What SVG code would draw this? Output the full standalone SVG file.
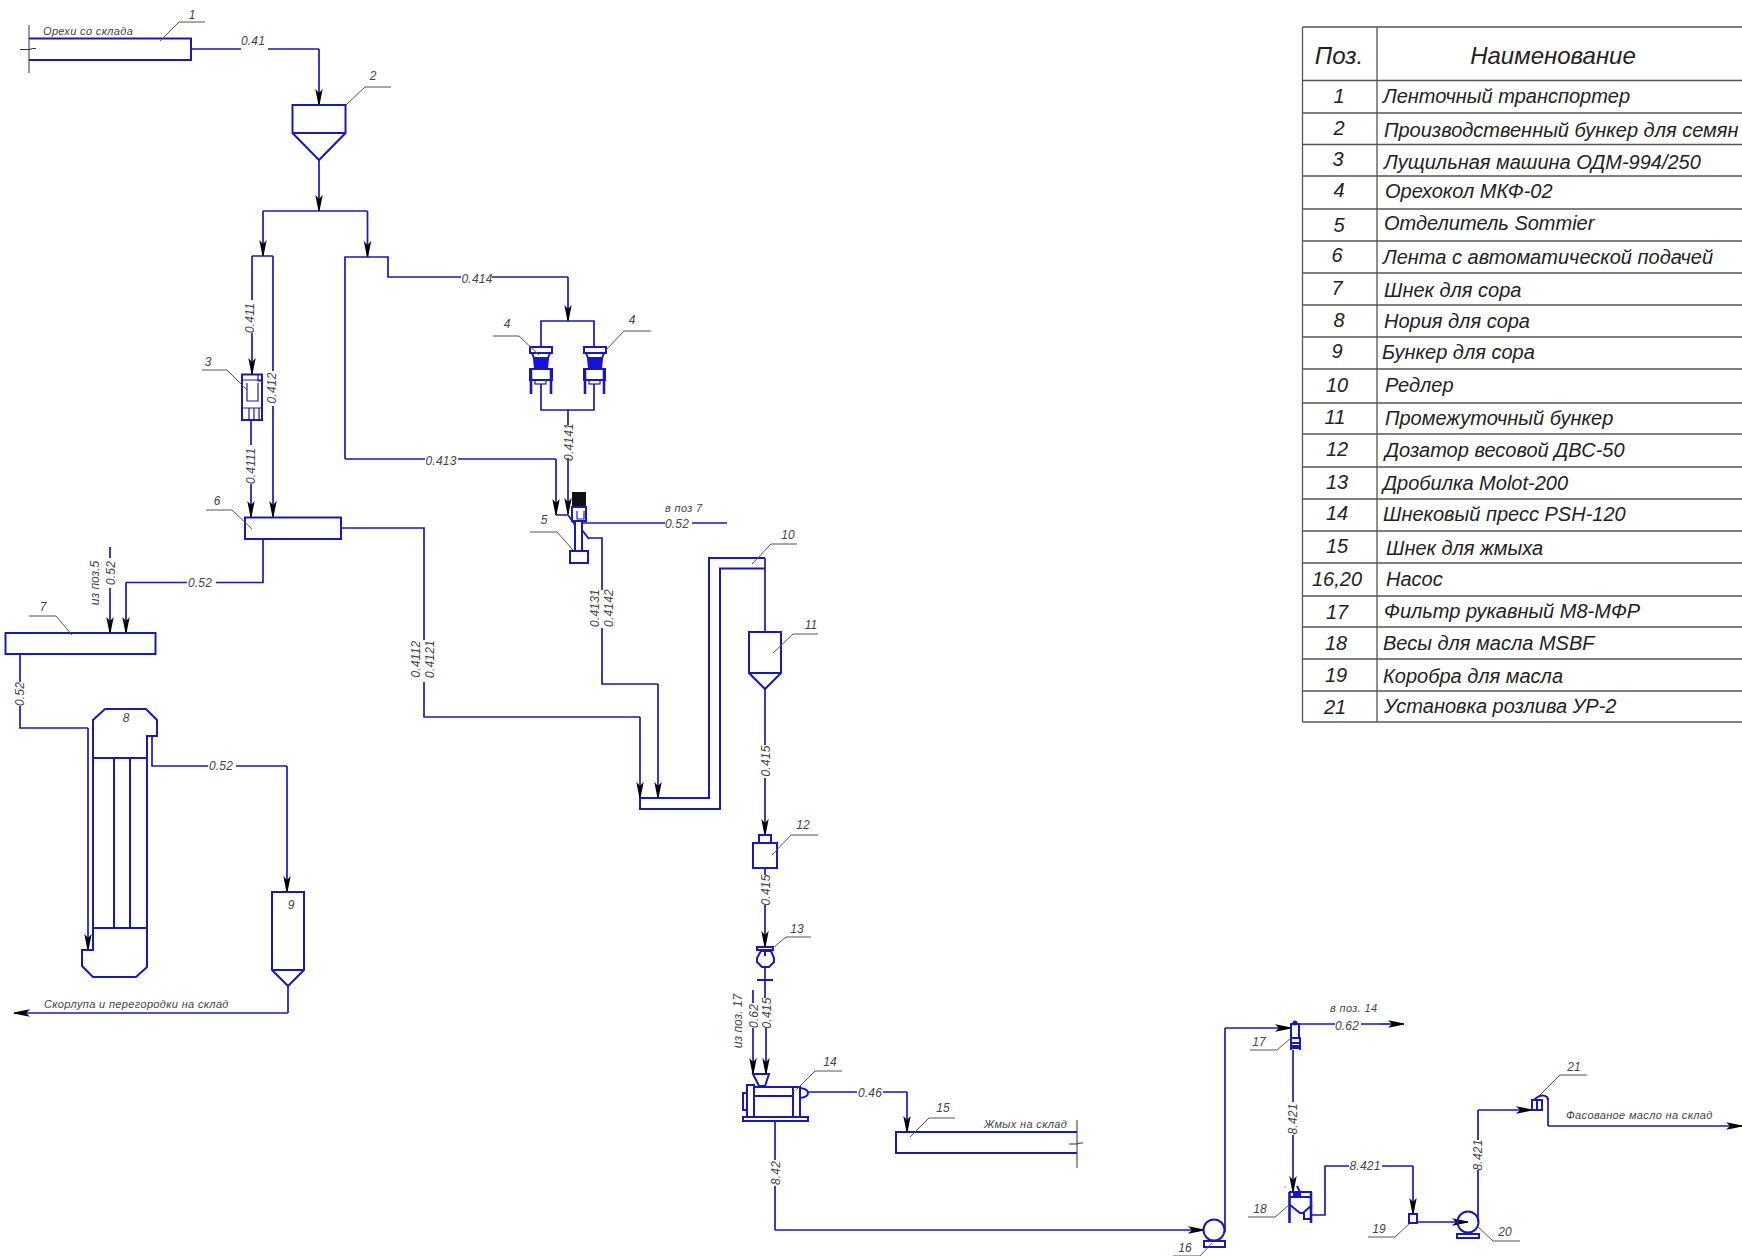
<svg xmlns="http://www.w3.org/2000/svg" width="1742" height="1256" viewBox="0 0 1742 1256">
<style>
text{font-family:"Liberation Sans",Arial,sans-serif;font-style:italic;fill:#444}
.n{font-size:12px;text-anchor:middle}
.l{font-size:12px;text-anchor:middle;letter-spacing:.2px}
.t{font-size:11px;letter-spacing:.35px}
.r{font-size:12px;text-anchor:middle}
.c{fill:none;stroke:#1a1ab0;stroke-width:1.7}
.a{fill:none;stroke:#1a1ab0;stroke-width:1.7;marker-end:url(#ar)}
.s{fill:#fff;stroke:#1a1ab0;stroke-width:2}
.o{fill:none;stroke:#1a1ab0;stroke-width:2}
.o1{fill:none;stroke:#1a1ab0;stroke-width:1.2}
.o3{fill:none;stroke:#1a1ab0;stroke-width:2.600}
.f{fill:#1414d8;stroke:none}
.ld{fill:none;stroke:#555;stroke-width:1}
.gl{fill:none;stroke:#333;stroke-width:1}
.g{fill:none;stroke:#555;stroke-width:1.3}
.th{font-size:24px;fill:#222;text-anchor:middle}
.tn{font-size:20px;fill:#222;text-anchor:middle}
.tx{font-size:20px;fill:#222}
</style>
<defs>
<marker id="ar" markerUnits="userSpaceOnUse" markerWidth="18" markerHeight="10" refX="16" refY="5" orient="auto">
<path d="M0,1.300 L4,5 L0,8.700 L9,6.900 L16,5.500 L16,4.500 L9,3.100 Z" fill="#000"/>
</marker>
</defs>
<rect width="1742" height="1256" fill="#fff"/>

<g id="connectors">
<path class="c" d="M191,49H241M268,49H319"/><path class="a" d="M319,49V105"/>
<path class="a" d="M319,160V211"/>
<path class="c" d="M263,211H367.5"/>
<path class="a" d="M263,211V256"/><path class="a" d="M367.5,211V257"/>
<path class="c" d="M252,256H273M252,256V300"/>
<path class="a" d="M252,333V374"/>
<path class="c" d="M273,256V371"/><path class="a" d="M273,406V517"/>
<path class="c" d="M251,420V445"/><path class="a" d="M251,484V517"/>
<path class="c" d="M345,459V257H388V277H461M492,277H568"/><path class="a" d="M568,277V321"/>
<path class="c" d="M345,459H425M458,459H556"/><path class="a" d="M556,459V515"/>
<path class="c" d="M556,515H568L575,525"/>
<path class="c" d="M541,348V321H594V348M541,384V410H594V384M568,410V425"/><path class="a" d="M568,458V514"/>
<path class="c" d="M582,523H665M692,523H727"/>
<path class="c" d="M589,538H602V590M602,628V684H658"/><path class="a" d="M658,684V798"/>
<path class="c" d="M341,528H424V640M424,682V717H640"/><path class="a" d="M640,717V798"/>
<path class="c" d="M263,539V582.5H216M187,582.5H126"/><path class="a" d="M126,582.5V633"/>
<path class="c" d="M110,547V558"/><path class="a" d="M110,588V633"/>
<path class="c" d="M20,654V682M20,706V728H88"/><path class="a" d="M88,728V950"/>
<path class="c" d="M152,736V766H208M236,766H287"/><path class="a" d="M287,766V892"/>
<path class="c" d="M288,986V1013"/><path class="a" d="M288,1013H14"/>
<path class="c" d="M765,558V632"/>
<path class="c" d="M765,689V745"/><path class="a" d="M765,778V835"/>
<path class="c" d="M765,868V875"/><path class="a" d="M765,905V947"/>
<path class="c" d="M765,967V998"/><path class="a" d="M766,1028V1074"/>
<path class="c" d="M753,990V1003"/><path class="a" d="M753,1028V1074"/>
<path class="c" d="M775,1121V1160M775,1186V1230"/><path class="a" d="M775,1230H1204"/>
<path class="c" d="M808,1092H857M883,1092H907"/><path class="a" d="M907,1092V1132"/>
<path class="c" d="M1225,1232V1028"/><path class="a" d="M1225,1028H1291"/>
<path class="c" d="M1299,1024H1335M1361,1024H1380"/><path class="a" d="M1380,1024H1404"/>
<path class="c" d="M1293,1050V1102"/><path class="a" d="M1293,1135V1192"/>
<path class="c" d="M1312,1215H1325V1166H1349M1382,1166H1413"/><path class="a" d="M1413,1166V1214"/>
<path class="a" d="M1418,1222H1468"/>
<path class="c" d="M1478,1222V1170M1478,1140V1110"/><path class="a" d="M1478,1110H1532"/>
<path class="c" d="M1548,1098V1126"/><path class="a" d="M1548,1126H1742"/>
<text class="l" x="253" y="45">0.41</text>
<text class="l" x="477" y="283">0.414</text>
<text class="l" transform="rotate(-90 254 318)" x="254" y="318">0.411</text>
<text class="l" transform="rotate(-90 276 388)" x="276" y="388">0.412</text>
<text class="l" transform="rotate(-90 255 466)" x="255" y="466">0.4111</text>
<text class="l" x="441" y="465">0.413</text>
<text class="l" transform="rotate(-90 573 442)" x="573" y="442">0.4141</text>
<text class="l" x="677" y="528">0.52</text>
<text class="t" x="665" y="512">в поз 7</text>
<text class="l" x="200" y="587">0.52</text>
<text class="l" transform="rotate(-90 115 573)" x="115" y="573">0.52</text>
<text class="r" transform="rotate(-90 99 583)" x="99" y="583">из поз.5</text>
<text class="l" transform="rotate(-90 24 694)" x="24" y="694">0.52</text>
<text class="l" x="221" y="770">0.52</text>
<text class="t" x="44" y="1008">Скорлупа и перегородки на склад</text>
<text class="l" transform="rotate(-90 420 659)" x="420" y="659">0.4112</text>
<text class="l" transform="rotate(-90 434 659)" x="434" y="659">0.4121</text>
<text class="l" transform="rotate(-90 599 608)" x="599" y="608">0.4131</text>
<text class="l" transform="rotate(-90 613 608)" x="613" y="608">0.4142</text>
<text class="l" transform="rotate(-90 770 761)" x="770" y="761">0.415</text>
<text class="l" transform="rotate(-90 770 890)" x="770" y="890">0.415</text>
<text class="l" transform="rotate(-90 771 1013)" x="771" y="1013">0.415</text>
<text class="l" transform="rotate(-90 758 1016)" x="758" y="1016">0.62</text>
<text class="r" transform="rotate(-90 742 1021)" x="742" y="1021">из поз. 17</text>
<text class="l" x="870" y="1097">0.46</text>
<text class="l" transform="rotate(-90 780 1173)" x="780" y="1173">8.42</text>
<text class="t" x="984" y="1128">Жмых на склад</text>
<text class="t" x="1330" y="1012">в поз. 14</text>
<text class="l" x="1347" y="1030">0.62</text>
<text class="l" transform="rotate(-90 1297 1119)" x="1297" y="1119">8.421</text>
<text class="l" x="1365" y="1170">8.421</text>
<text class="l" transform="rotate(-90 1482 1155)" x="1482" y="1155">8.421</text>
<text class="t" x="1566" y="1119">Фасованое масло на склад</text>
</g>

<g id="node1">
<path class="o" d="M29,38.5H191V60H29"/>
<path class="gl" d="M29,25V73M20,49.5H29L33,48.5H36"/>
<text class="t" x="43" y="35">Орехи со склада</text>
<path class="ld" d="M160,41L179,22H205"/><text class="n" x="192" y="19">1</text>
</g>
<g id="node2">
<path class="s" d="M292.5,105H345.5V133L319,160L292.5,133Z"/><path class="o" d="M292.5,133H345.5"/>
<path class="ld" d="M346,105L365,87H391"/><text class="n" x="373" y="80">2</text>
</g>
<g id="node3">
<rect class="s" x="242" y="374.500" width="20" height="45.500"/>
<path class="o1" d="M242,380H262M247,383V401H258V383M258,375V381H262M242,408H262M249,408V420M254,408V420M259,408V420"/>
<path class="ld" d="M202,370H227L247,390"/><text class="n" x="208" y="366">3</text>
</g>
<g id="node4a">
<path class="s" d="M532,353H550L548,358H534Z"/>
<rect class="s" x="530" y="347" width="22" height="6"/>
<path class="f" d="M533,358H549L548,369H534Z"/>
<rect class="s" x="530" y="369" width="22" height="11"/>
<rect class="o1" x="535" y="380" width="11" height="4"/>
<path class="o3" d="M531,369V394M551,369V394"/>
<path class="ld" d="M493,336H519L539,355"/><text class="n" x="507" y="328">4</text>
</g>
<g id="node4b">
<path class="s" d="M586,353H604L602,358H588Z"/>
<rect class="s" x="584" y="347" width="22" height="6"/>
<path class="f" d="M587,358H603L602,369H588Z"/>
<rect class="s" x="584" y="369" width="21" height="11"/>
<rect class="o1" x="589" y="380" width="11" height="4"/>
<path class="o3" d="M585,369V394M604,369V394"/>
<path class="ld" d="M606,350L624,331H651"/><text class="n" x="632" y="324">4</text>
</g>
<g id="node5">
<rect x="572" y="492" width="14" height="15" fill="#111"/>
<rect class="s" x="572" y="507" width="14" height="14"/>
<path class="o1" d="M577,511V519H584V511"/>
<path class="o" d="M575,521V551M582,521V551"/>
<rect class="s" x="570" y="551" width="18" height="12"/>
<path class="o" d="M582,530L589,539"/>
<path class="ld" d="M530,532H557L573,550"/><text class="n" x="544" y="524">5</text>
</g>
<g id="node6">
<rect class="s" x="245" y="517.500" width="96" height="21.500"/>
<path class="ld" d="M206,510H232L252,529"/><text class="n" x="217" y="505">6</text>
</g>
<g id="node7">
<rect class="s" x="5.500" y="633" width="150" height="21"/>
<path class="ld" d="M29,616H56L72,635"/><text class="n" x="43" y="611">7</text>
</g>
<g id="node8">
<path class="s" d="M93,720L105,709H146L157,720V736H147V967L136,977H93L82,966V950H93Z"/>
<path class="o" d="M93,758H147M93,928H147M114,758V928M130,758V928"/>
<text class="n" x="126" y="722">8</text>
</g>
<g id="node9">
<path class="s" d="M272,892H304V970L288,986L272,970Z"/><path class="o" d="M272,970H304"/>
<text class="n" x="291" y="909">9</text>
</g>
<g id="node10">
<path class="o" d="M640,798H709V558H765M640,798V809H720V568.500H765"/>
<path class="ld" d="M752,564L771,544H797"/><text class="n" x="788" y="539">10</text>
</g>
<g id="node11">
<path class="s" d="M749,632H781V673L765,689L749,673Z"/><path class="o" d="M749,673H781"/>
<path class="ld" d="M773,653L793,634H818"/><text class="n" x="811" y="629">11</text>
</g>
<g id="node12">
<rect class="s" x="759" y="835" width="12" height="8"/>
<rect class="s" x="753" y="843" width="24" height="25"/>
<path class="ld" d="M772,855L791,835H818"/><text class="n" x="803" y="829">12</text>
</g>
<g id="node13">
<path class="s" d="M761,951H771L774,958V962L769,967H762L757,962V958Z"/>
<path class="s" d="M757,947H773V950H757Z"/>
<path class="o" d="M765,950V956M757,980H773"/>
<path class="ld" d="M773,948L786,937H811"/><text class="n" x="797" y="933">13</text>
</g>
<g id="node14">
<path class="s" d="M753,1074H769L765,1086H759Z"/>
<rect class="s" x="747" y="1085" width="7" height="32"/>
<rect class="s" x="743" y="1093" width="4" height="17"/>
<rect class="s" x="754" y="1087" width="46" height="30"/>
<path class="o" d="M754,1096H793M793,1087V1117"/>
<path class="s" d="M800,1088Q808,1089 808,1093Q808,1097 800,1098Z"/>
<rect class="s" x="743" y="1117" width="65" height="4"/>
<path class="ld" d="M796,1090L815,1071H842"/><text class="n" x="830" y="1066">14</text>
</g>
<g id="node15">
<path class="o" d="M1077,1132H896V1153H1077"/>
<path class="gl" d="M1077,1120V1168M1069,1144H1077L1080,1143H1083"/>
<path class="ld" d="M910,1137L929,1118H955"/><text class="n" x="943" y="1112">15</text>
</g>
<g id="node16">
<circle class="o" cx="1214" cy="1230" r="10.500"/>
<rect class="s" x="1204" y="1241" width="21" height="6"/>
<path class="ld" d="M1212,1243L1200,1256H1173"/><text class="n" x="1185" y="1252">16</text>
</g>
<g id="node17">
<rect class="s" x="1291" y="1024" width="8" height="14"/>
<circle class="f" cx="1295" cy="1023" r="2.500"/>
<path class="o" d="M1291,1038H1300V1050M1291,1038V1050M1291,1043H1300"/>
<rect class="f" x="1292" y="1045" width="7" height="4"/>
<path class="ld" d="M1291,1038L1277,1050H1250"/><text class="n" x="1259" y="1046">17</text>
</g>
<g id="node18">
<path class="o3" d="M1289.500,1192V1223M1311,1192V1223"/>
<path class="o" d="M1289,1192H1312M1289,1197H1312M1290,1205L1300,1213H1303L1312,1205M1304,1213V1219H1310M1297,1186L1300,1192"/>
<rect class="f" x="1293" y="1192" width="8" height="5"/>
<circle class="f" cx="1285" cy="1187" r=".6"/>
<path class="ld" d="M1289,1205L1275,1217H1248"/><text class="n" x="1260" y="1213">18</text>
</g>
<g id="node19">
<rect class="s" x="1409" y="1214" width="8" height="9"/>
<path class="ld" d="M1409,1224L1395,1237H1368"/><text class="n" x="1379" y="1233">19</text>
</g>
<g id="node20">
<circle class="o" cx="1468" cy="1222" r="10.500"/>
<rect class="s" x="1457" y="1234" width="22" height="4"/>
<path class="ld" d="M1478,1227L1493,1241H1520"/><text class="n" x="1505" y="1236">20</text>
</g>
<g id="node21">
<rect class="s" x="1532" y="1100" width="10" height="10"/>
<path class="o" d="M1537,1100V1110M1534,1100Q1541,1093 1547,1097L1548,1100"/>
<path class="ld" d="M1540,1095L1560,1075H1587"/><text class="n" x="1574" y="1071">21</text>
</g>

<g id="table">
<path class="g" d="M1302.500,27V722M1377,27V722M1302.500,27H1742M1302.500,80.500H1742M1302.500,113H1742M1302.500,144.500H1742M1302.500,176H1742M1302.500,209H1742M1302.500,241H1742M1302.500,273H1742M1302.500,305H1742M1302.500,337H1742M1302.500,369H1742M1302.500,403H1742M1302.500,434H1742M1302.500,467H1742M1302.500,499H1742M1302.500,531H1742M1302.500,563H1742M1302.500,596H1742M1302.500,627H1742M1302.500,659H1742M1302.500,691H1742M1302.500,722H1742"/>
<text class="th" x="1339" y="64">Поз.</text><text class="th" x="1553" y="64">Наименование</text>
<text class="tn" x="1339" y="103">1</text><text class="tx" x="1383" y="103">Ленточный транспортер</text>
<text class="tn" x="1339" y="135">2</text><text class="tx" x="1384" y="137">Производственный бункер для семян</text>
<text class="tn" x="1338" y="166">3</text><text class="tx" x="1384" y="169">Лущильная машина ОДМ-994/250</text>
<text class="tn" x="1339" y="197">4</text><text class="tx" x="1385" y="198">Орехокол МКФ-02</text>
<text class="tn" x="1339" y="232">5</text><text class="tx" x="1384" y="230">Отделитель Sommier</text>
<text class="tn" x="1337" y="262">6</text><text class="tx" x="1383" y="264">Лента с автоматической подачей</text>
<text class="tn" x="1337" y="295">7</text><text class="tx" x="1384" y="297">Шнек для сора</text>
<text class="tn" x="1339" y="327">8</text><text class="tx" x="1384" y="328">Нория для сора</text>
<text class="tn" x="1337" y="358">9</text><text class="tx" x="1382" y="359">Бункер для сора</text>
<text class="tn" x="1337" y="392">10</text><text class="tx" x="1385" y="392">Редлер</text>
<text class="tn" x="1335" y="424">11</text><text class="tx" x="1385" y="425">Промежуточный бункер</text>
<text class="tn" x="1337" y="456">12</text><text class="tx" x="1385" y="457">Дозатор весовой  ДВС-50</text>
<text class="tn" x="1337" y="489">13</text><text class="tx" x="1383" y="490">Дробилка Molot-200</text>
<text class="tn" x="1337" y="520">14</text><text class="tx" x="1383" y="521">Шнековый пресс PSH-120</text>
<text class="tn" x="1337" y="553">15</text><text class="tx" x="1386" y="555">Шнек для жмыха</text>
<text class="tn" x="1337" y="586">16,20</text><text class="tx" x="1386" y="586">Насос</text>
<text class="tn" x="1337" y="619">17</text><text class="tx" x="1384" y="618">Фильтр рукавный М8-МФР</text>
<text class="tn" x="1336" y="650">18</text><text class="tx" x="1383" y="650">Весы для масла MSBF</text>
<text class="tn" x="1336" y="682">19</text><text class="tx" x="1383" y="683">Коробра для масла</text>
<text class="tn" x="1335" y="714">21</text><text class="tx" x="1384" y="713">Установка розлива УР-2</text>
</g>
</svg>
